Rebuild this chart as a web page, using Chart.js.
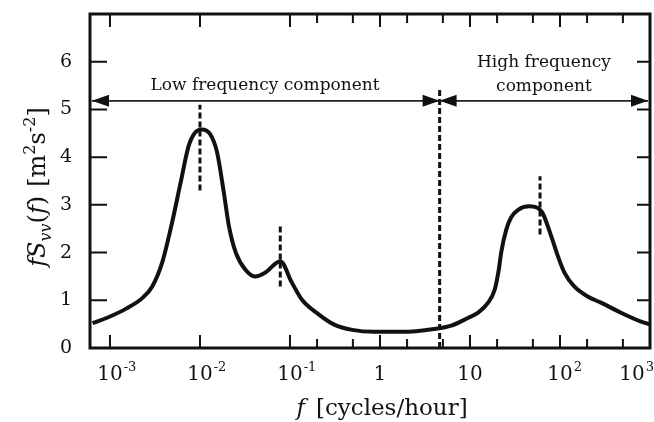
<!DOCTYPE html>
<html>
<head>
<meta charset="utf-8">
<script src="https://cdn.jsdelivr.net/npm/chart.js@4.4.1/dist/chart.umd.min.js"></script>
<style>
  html, body { margin: 0; padding: 0; background: #fff; }
</style>
</head>
<body>
<canvas id="spectrum" width="654" height="422"></canvas>
<script>
// ----- spectrum fS(f) against frequency [cycles/hour] -----
const freq = [6.4e-4, 1.0e-3, 1.5e-3, 2.3e-3, 2.95e-3, 3.8e-3, 4.9e-3, 6.1e-3, 7.5e-3, 8.9e-3,
  0.0105, 0.013, 0.0155, 0.0184, 0.021, 0.025, 0.032, 0.041, 0.053, 0.078,
  0.105, 0.136, 0.21, 0.31, 0.49, 0.87, 1.74, 4.0, 6.2, 9.5,
  12.3, 15.9, 18.8, 20.8, 22.3, 25.3, 28.7, 34, 45, 62,
  80, 95, 112, 144, 203, 285, 475, 860, 1000];
const fSvv = [0.52, 0.66, 0.82, 1.05, 1.29, 1.79, 2.63, 3.47, 4.24, 4.52,
  4.58, 4.48, 4.10, 3.26, 2.55, 2.0, 1.64, 1.50, 1.58, 1.82,
  1.37, 1.01, 0.70, 0.49, 0.38, 0.34, 0.34, 0.40, 0.47, 0.63,
  0.74, 0.95, 1.22, 1.62, 2.02, 2.48, 2.74, 2.89, 2.97, 2.87,
  2.34, 1.92, 1.58, 1.29, 1.08, 0.95, 0.74, 0.53, 0.50];

// dashed vertical markers (frequency, bottom, top)
const markerFreq = [0.01, 0.078, 4.6, 60];
const markerLow = [3.3, 1.29, 0, 2.38];
const markerHigh = [5.1, 2.55, 5.47, 3.6];

// axis ticks
const decadeTicks = [1e-3, 1e-2, 1e-1, 1, 10, 100, 1000];
const decadeBase = ['10', '10', '10', '1', '10', '10', '10'];
const decadeExp = ['-3', '-2', '-1', '', '', '2', '3'];
const minorTicks = [0.2, 0.5, 2, 5, 20, 50, 200, 500];
const yTicks = [1, 2, 3, 4, 5, 6];

// split between the two components
const arrowLevel = 5.18;
const splitFreq = 4.6;

const INK = '#111';
const SERIF = '"DejaVu Serif", serif';

function font(size, italic) {
  return (italic ? 'italic ' : '') + size + 'px ' + SERIF;
}

// draws a run of text pieces one after the other, centred on x
function drawRich(ctx, parts, x, y) {
  let total = 0;
  parts.forEach(p => { ctx.font = p.font; total += ctx.measureText(p.t).width + (p.gap || 0); });
  let cx = x - total / 2;
  ctx.textAlign = 'left';
  ctx.textBaseline = 'alphabetic';
  parts.forEach(p => {
    ctx.font = p.font;
    ctx.fillText(p.t, cx, y + (p.dy || 0));
    cx += ctx.measureText(p.t).width + (p.gap || 0);
  });
}

function arrowHead(ctx, tipX, y, dir) {
  ctx.beginPath();
  ctx.moveTo(tipX, y);
  ctx.lineTo(tipX - dir * 17, y - 6);
  ctx.lineTo(tipX - dir * 17, y + 6);
  ctx.closePath();
  ctx.fill();
}

const decorations = {
  id: 'decorations',
  afterDraw(chart) {
    const ctx = chart.ctx;
    const a = chart.chartArea;
    const xs = chart.scales.x;
    const ys = chart.scales.y;
    ctx.save();
    ctx.strokeStyle = INK;
    ctx.fillStyle = INK;

    // frame
    ctx.lineWidth = 3;
    ctx.strokeRect(a.left, a.top, a.right - a.left, a.bottom - a.top);

    // inward ticks
    ctx.lineWidth = 2;
    ctx.beginPath();
    decadeTicks.forEach(v => {
      const px = xs.getPixelForValue(v);
      ctx.moveTo(px, a.bottom); ctx.lineTo(px, a.bottom - 13);
      ctx.moveTo(px, a.top); ctx.lineTo(px, a.top + 13);
    });
    minorTicks.forEach(v => {
      const px = xs.getPixelForValue(v);
      ctx.moveTo(px, a.bottom); ctx.lineTo(px, a.bottom - 9);
      ctx.moveTo(px, a.top); ctx.lineTo(px, a.top + 9);
    });
    yTicks.forEach(v => {
      const py = ys.getPixelForValue(v);
      ctx.moveTo(a.left, py); ctx.lineTo(a.left + 17, py);
      ctx.moveTo(a.right, py); ctx.lineTo(a.right - 13, py);
    });
    ctx.stroke();

    // x tick labels with exponents; the last one is kept inside the canvas
    ctx.textBaseline = 'alphabetic';
    ctx.textAlign = 'left';
    decadeTicks.forEach((v, i) => {
      const px = xs.getPixelForValue(v);
      ctx.font = font(13);
      const we = decadeExp[i] ? ctx.measureText(decadeExp[i]).width + 1 : 0;
      ctx.font = font(20);
      const wb = ctx.measureText(decadeBase[i]).width;
      const left = Math.min(px - wb / 2, chart.width - wb - we);
      ctx.fillText(decadeBase[i], left, a.bottom + 32);
      if (decadeExp[i]) {
        ctx.font = font(13);
        ctx.fillText(decadeExp[i], left + wb + 1, a.bottom + 23);
      }
    });

    // axis titles
    drawRich(ctx, [
      { t: 'f', font: font(23, true), gap: 11 },
      { t: '[cycles/hour]', font: font(23) }
    ], 382, 415);

    ctx.save();
    ctx.translate(45, 187);
    ctx.rotate(-Math.PI / 2);
    drawRich(ctx, [
      { t: 'fS', font: font(24, true) },
      { t: 'vv', font: font(16, true), dy: 6 },
      { t: '(', font: font(24) },
      { t: 'f', font: font(24, true) },
      { t: ')', font: font(24), gap: 9 },
      { t: '[m', font: font(24) },
      { t: '2', font: font(16), dy: -10 },
      { t: 's', font: font(24) },
      { t: '-2', font: font(16), dy: -10 },
      { t: ']', font: font(24) }
    ], 0, 0);
    ctx.restore();

    // component arrows
    const ay = ys.getPixelForValue(arrowLevel);
    const sx = xs.getPixelForValue(splitFreq);
    ctx.lineWidth = 1.8;
    ctx.strokeStyle = '#222';
    ctx.beginPath();
    ctx.moveTo(a.left + 2, ay); ctx.lineTo(a.right - 2, ay);
    ctx.stroke();
    arrowHead(ctx, a.left + 2, ay, -1);
    arrowHead(ctx, sx, ay, 1);
    arrowHead(ctx, sx, ay, -1);
    arrowHead(ctx, a.right - 2, ay, 1);

    ctx.font = font(17);
    ctx.textAlign = 'center';
    ctx.fillText('Low frequency component', 265, 90);
    ctx.fillText('High frequency', 544, 67);
    ctx.fillText('component', 544, 91);

    ctx.restore();
  }
};

const datasets = [{
  data: freq.map((f, i) => ({ x: f, y: fSvv[i] })),
  showLine: true,
  borderColor: INK,
  borderWidth: 4,
  pointRadius: 0,
  cubicInterpolationMode: 'monotone'
}];
markerFreq.forEach((f, i) => {
  datasets.push({
    data: [{ x: f, y: markerLow[i] }, { x: f, y: markerHigh[i] }],
    showLine: true,
    borderColor: INK,
    borderWidth: 3,
    borderDash: [6, 3],
    pointRadius: 0
  });
});

new Chart(document.getElementById('spectrum'), {
  type: 'scatter',
  data: { datasets: datasets },
  options: {
    responsive: false,
    animation: false,
    layout: { padding: { top: 14, right: 4, left: 0, bottom: 0 } },
    plugins: { legend: { display: false }, tooltip: { enabled: false } },
    scales: {
      x: {
        type: 'logarithmic',
        min: 6.4e-4,
        max: 1000,
        grid: { display: false, drawTicks: false },
        border: { display: false },
        ticks: { display: false },
        afterFit: s => { s.height = 74; s.paddingLeft = 0; s.paddingRight = 0; }
      },
      y: {
        min: 0,
        max: 7,
        grid: { display: false, drawTicks: false },
        border: { display: false },
        ticks: {
          stepSize: 1,
          padding: 18,
          color: INK,
          font: { family: SERIF, size: 19 },
          callback: v => (v === 7 ? null : v)
        },
        afterFit: s => { s.width = 90; s.paddingTop = 0; s.paddingBottom = 0; }
      }
    }
  },
  plugins: [decorations]
});
</script>
</body>
</html>
